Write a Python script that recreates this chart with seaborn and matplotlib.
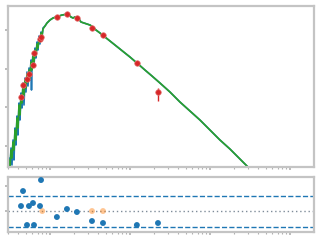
import numpy as np
import pandas as pd
import matplotlib
matplotlib.use("Agg")
import matplotlib.pyplot as plt
import seaborn as sns
from matplotlib.ticker import FixedLocator, NullLocator, LogLocator

# ---------------- data (log10 wavelength [um], log10 relative flux) ----------------
model_logw_blue_head = [-0.525, -0.5125, -0.5, -0.4875, -0.475, -0.4625, -0.45, -0.4375, -0.425,
                        -0.4125, -0.4, -0.3875, -0.375, -0.3625, -0.35, -0.3375, -0.325, -0.3125,
                        -0.3, -0.2875, -0.275, -0.2625, -0.25, -0.2375, -0.2313, -0.225, -0.2125,
                        -0.2, -0.1875, -0.175, -0.1625, -0.15, -0.1375, -0.125, -0.1125, -0.1,
                        -0.0875, -0.0625, -0.0375]
model_logf_blue_head = [-7.513, -6.632, -7.254, -6.114, -6.995, -5.699, -6.736, -5.078, -5.959,
                        -4.456, -5.440, -3.782, -4.663, -3.264, -4.041, -2.746, -3.886, -2.487,
                        -3.212, -2.176, -2.902, -1.969, -2.591, -1.554, -3.109, -1.865, -1.244,
                        -1.865, -0.933, -1.451, -0.622, -1.036, -0.311, -0.725, -0.104, -0.363,
                        0.104, 0.207, 0.363]

model_logw_green_head = [-0.525, -0.5125, -0.5, -0.4875, -0.475, -0.4625, -0.45, -0.4375, -0.425,
                         -0.4125, -0.4, -0.3875, -0.375, -0.3625, -0.35, -0.3375, -0.325, -0.3125,
                         -0.3, -0.2875, -0.275, -0.2625, -0.25, -0.2375, -0.225, -0.2125,
                         -0.2, -0.1875, -0.175, -0.1625, -0.15, -0.1375, -0.125, -0.1125, -0.1,
                         -0.0875, -0.0625, -0.0375]
model_logf_green_head = [-7.513, -6.736, -7.150, -6.218, -6.632, -5.803, -6.218, -5.181, -5.699,
                         -4.560, -5.078, -3.886, -4.404, -3.368, -3.782, -2.850, -3.368, -2.591,
                         -3.005, -2.280, -2.694, -2.073, -2.487, -1.658, -2.073, -1.347,
                         -1.658, -1.036, -1.347, -0.725, -0.933, -0.415, -0.622, -0.155, -0.311,
                         0.052, 0.207, 0.363]

model_logw_tail = [0.0, 0.0375, 0.075, 0.1125, 0.15, 0.1875, 0.2125, 0.2375, 0.2625, 0.2875,
                   0.3125, 0.3375, 0.3625, 0.3875, 0.425, 0.4625, 0.5, 0.5375, 0.575, 0.625,
                   0.6875, 0.75, 0.8125, 0.875, 0.9375, 1.0, 1.0875, 1.1875, 1.275, 1.375,
                   1.5, 1.625, 1.75, 1.875, 2.0, 2.125, 2.25, 2.375, 2.475, 2.575]
model_logf_tail = [0.518, 0.622, 0.674, 0.725, 0.777, 0.803, 0.829, 0.777, 0.674, 0.622,
                   0.674, 0.674, 0.570, 0.415, 0.363, 0.311, 0.259, 0.155, 0.0, -0.155,
                   -0.363, -0.570, -0.777, -0.984, -1.192, -1.399, -1.710, -2.073, -2.383, -2.746,
                   -3.212, -3.731, -4.197, -4.663, -5.181, -5.699, -6.166, -6.684, -7.098, -7.513]

# photometry (wavelength um, relative flux, error)
phot_wave = [0.434, 0.460, 0.516, 0.546, 0.613, 0.631, 0.750, 0.772, 1.22, 1.63, 2.17, 3.35, 4.60, 12.2, 22.4]
phot_flux = [3.38e-4, 1.41e-3, 2.89e-3, 5.25e-3, 1.54e-2, 6.43e-2, 0.342, 0.434, 4.72, 6.75, 4.19,
             1.27, 0.551, 1.95e-2, 6.13e-4]
phot_err = [1.5e-5, 6e-5, 1.2e-4, 2e-4, 6e-4, 2.5e-3, 1.2e-2, 1.5e-2, 0.12, 0.17, 0.1,
            0.03, 0.015, 1.2e-3, 4.0e-4]

# residuals
resid = [0.2, 0.8, -0.56, 0.2, 0.32, -0.56, 0.2, 1.24, -0.24, 0.08, -0.04, -0.4, -0.48, -0.56, -0.48]
excl_wave = [0.80, 3.35, 4.60]
excl_resid = [0.0, 0.0, 0.0]
resid_band = [0.6, -0.64]

# ---------------- plot ----------------
sns.set_theme(style="white")
plt.rcParams["font.family"] = ["DejaVu Sans"]

fig = plt.figure(figsize=(3.2, 2.4), dpi=100)
ax1 = fig.add_axes([0.025, 0.3042, 0.956, 0.671])
ax2 = fig.add_axes([0.025, 0.0333, 0.956, 0.229])

for ax in (ax1, ax2):
    ax.set_xscale("log")
ax1.set_yscale("log")

blue = pd.DataFrame({"w": 10 ** np.array(model_logw_blue_head + model_logw_tail),
                     "f": 10 ** np.array(model_logf_blue_head + model_logf_tail)})
green = pd.DataFrame({"w": 10 ** np.array(model_logw_green_head + model_logw_tail),
                      "f": 10 ** np.array(model_logf_green_head + model_logf_tail)})

sns.lineplot(data=blue, x="w", y="f", ax=ax1, sort=False, estimator=None,
             color="#1f77b4", lw=1.2)
sns.lineplot(data=green, x="w", y="f", ax=ax1, sort=False, estimator=None,
             color="#2ca02c", lw=1.2)
ax1.errorbar(phot_wave, phot_flux, yerr=phot_err, fmt="o", color="#d62728",
             ms=4, elinewidth=1, zorder=5, markeredgewidth=0.5, markeredgecolor="#e57373")

ax1.set_xlim(10 ** -0.525, 10 ** 3.3)
ax1.set_ylim(10 ** -7.098, 10 ** 1.247)
ax1.yaxis.set_major_locator(FixedLocator([1, 1e-2, 1e-4, 1e-6]))
ax1.yaxis.set_minor_locator(NullLocator())

res = pd.DataFrame({"w": phot_wave, "r": resid})
exc = pd.DataFrame({"w": excl_wave, "r": excl_resid})
ax2.axhline(resid_band[0], ls="--", color="#1f77b4", lw=1, zorder=1)
ax2.axhline(resid_band[1], ls="--", color="#1f77b4", lw=1, zorder=1)
ax2.axhline(0, ls=(0, (1, 2)), color="#7f8c99", lw=1, zorder=1)
sns.scatterplot(data=exc, x="w", y="r", ax=ax2, color="#ff7f0e", alpha=0.45, s=18,
                edgecolor="none", zorder=3)
sns.scatterplot(data=res, x="w", y="r", ax=ax2, color="#1f77b4", s=18,
                edgecolor="none", zorder=4)
ax2.set_xlim(10 ** -0.525, 10 ** 3.3)
ax2.set_ylim(-0.84, 1.36)
ax2.yaxis.set_major_locator(FixedLocator([0, 1]))

for ax in (ax1, ax2):
    ax.set_xlabel("")
    ax.set_ylabel("")
    ax.xaxis.set_major_locator(LogLocator(base=10, numticks=10))
    ax.xaxis.set_minor_locator(LogLocator(base=10, subs=np.arange(2, 10), numticks=20))
    ax.tick_params(which="both", bottom=True, left=True, direction="out",
                   labelbottom=False, labelleft=False, color="#b0b0b0")
    ax.tick_params(which="major", length=2.5, width=1.2)
    ax.tick_params(which="minor", length=1.5, width=0.8)
    for sp in ax.spines.values():
        sp.set_color("#c4c4c4")
        sp.set_linewidth(1.6)
    ax.grid(False)

fig.savefig("out.png", dpi=100)
